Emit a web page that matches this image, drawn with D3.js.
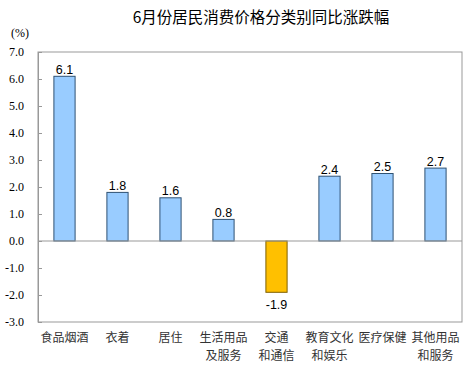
<!DOCTYPE html>
<html>
<head>
<meta charset="utf-8">
<script src="https://cdn.jsdelivr.net/npm/d3@7"></script>
<style>
  body { margin: 0; background: #fff; }
  svg { display: block; }
</style>
</head>
<body>
<svg id="chart" width="471" height="369"></svg>
<script>
const title = '6月份居民消费价格分类别同比涨跌幅';
const categories = [
  ['食品烟酒'], ['衣着'], ['居住'], ['生活用品', '及服务'],
  ['交通', '和通信'], ['教育文化', '和娱乐'], ['医疗保健'], ['其他用品', '和服务']
];
const values = [6.1, 1.8, 1.6, 0.8, -1.9, 2.4, 2.5, 2.7];
const yTicks = [7, 6, 5, 4, 3, 2, 1, 0, -1, -2, -3];

const svg = d3.select('#chart');
const margin = { left: 38, right: 9, top: 52, bottom: 47 };
const width = 471, height = 369;
const fmt = d => d3.format('.1f')(d).replace('−', '-');

const x = d3.scaleBand()
  .domain(d3.range(categories.length))
  .range([margin.left, width - margin.right])
  .paddingInner(0.6)
  .paddingOuter(0.3);

const y = d3.scaleLinear()
  .domain([-3, 7])
  .range([height - margin.bottom, margin.top]);

// title
svg.append('text')
  .attr('x', 261).attr('y', 23)
  .attr('text-anchor', 'middle')
  .style('font-family', '"Noto Sans CJK SC", sans-serif')
  .style('font-size', '15.5px')
  .text(title);

svg.append('text')
  .attr('x', 11).attr('y', 37)
  .style('font-family', '"Liberation Serif", serif')
  .style('font-size', '12px')
  .text('(%)');

// frame
svg.append('rect')
  .attr('x', margin.left).attr('y', margin.top)
  .attr('width', width - margin.right - margin.left)
  .attr('height', height - margin.bottom - margin.top)
  .attr('fill', 'none')
  .attr('stroke', '#999');

// y axis
const yAxis = d3.axisLeft(y)
  .tickValues(yTicks)
  .tickSize(-4)
  .tickPadding(14)
  .tickFormat(fmt);

const ga = svg.append('g')
  .attr('transform', `translate(${margin.left},0)`)
  .call(yAxis);
ga.select('.domain').attr('stroke', '#999');
ga.selectAll('.tick line').attr('stroke', '#999');
ga.selectAll('.tick text')
  .attr('fill', '#000')
  .style('font-family', '"Liberation Serif", serif')
  .style('font-size', '12px');

// bars
svg.append('g').selectAll('rect')
  .data(values)
  .join('rect')
  .attr('x', (d, i) => x(i))
  .attr('width', x.bandwidth())
  .attr('y', d => y(Math.max(0, d)))
  .attr('height', d => Math.abs(y(d) - y(0)))
  .attr('fill', d => d < 0 ? '#FFC000' : '#99CCFF')
  .attr('stroke', d => d < 0 ? '#7F6000' : '#2F5273')
  .attr('stroke-width', 1);

// zero line
svg.append('line')
  .attr('x1', margin.left).attr('x2', width - margin.right)
  .attr('y1', y(0)).attr('y2', y(0))
  .attr('stroke', '#999');

// value labels
svg.append('g').selectAll('text')
  .data(values)
  .join('text')
  .attr('x', (d, i) => x(i) + x.bandwidth() / 2)
  .attr('y', d => d < 0 ? y(d) + 17 : y(d) - 2.5)
  .attr('text-anchor', 'middle')
  .style('font-family', '"Liberation Sans", Arial, sans-serif')
  .style('font-size', '12.5px')
  .text(fmt);

// category labels
const cg = svg.append('g').selectAll('text')
  .data(categories)
  .join('text')
  .attr('text-anchor', 'middle')
  .style('font-family', '"Noto Sans CJK SC", sans-serif')
  .style('font-size', '12px')
  .attr('fill', '#333');
cg.selectAll('tspan')
  .data((d, i) => d.map(s => ({ s, i })))
  .join('tspan')
  .attr('x', d => x(d.i) + x.bandwidth() / 2)
  .attr('y', (d, j) => 342 + j * 18)
  .text(d => d.s);
</script>
</body>
</html>
